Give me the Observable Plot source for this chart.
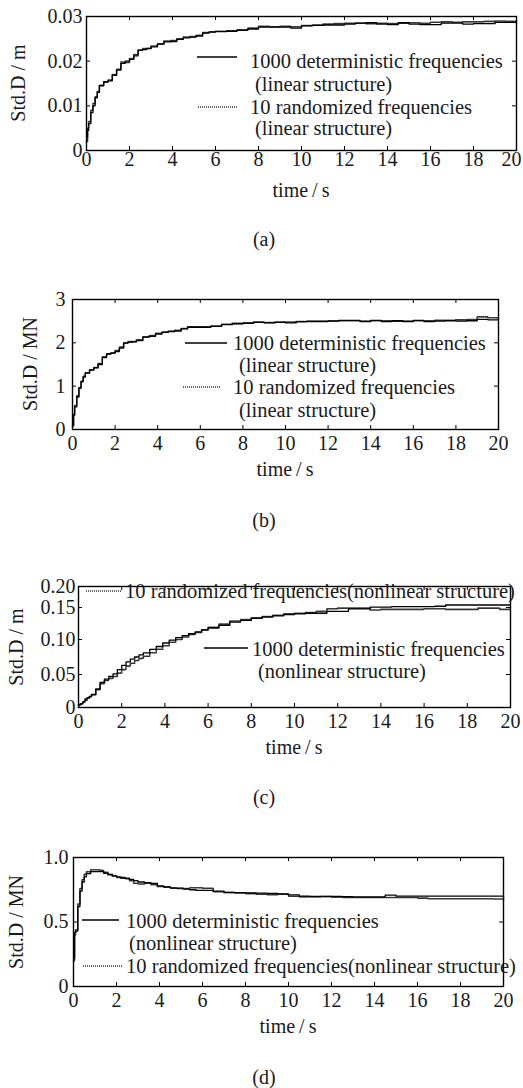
<!DOCTYPE html>
<html><head><meta charset="utf-8">
<script src="https://cdn.jsdelivr.net/npm/d3@7"></script>
<script src="https://cdn.jsdelivr.net/npm/@observablehq/plot@0.6"></script>
<style>
html,body{margin:0;padding:0;background:#fff;}
#root{position:relative;width:523px;height:1088px;overflow:hidden;font-family:"Liberation Serif","Times New Roman","DejaVu Serif",serif;color:#1a1a1a;}
.abs{position:absolute;white-space:nowrap;line-height:1;}
svg{position:absolute;left:0;}
</style></head><body><div id="root"></div>
<script>
// ---------- data ----------
const time = [0,0.05,0.1,0.2,0.3,0.4,0.5,0.6,0.8,1.0,
  1.2,1.4,1.6,1.8,2.0,2.2,2.4,2.6,2.8,3.0,
  3.3,3.6,3.9,4.2,4.5,4.8,5.1,5.4,5.7,6.0,
  6.5,7.0,7.5,8.0,8.5,9.0,9.5,10.0,10.5,11.0,11.5,12.0,12.5,13.0,13.5,14.0,14.5,15.0,15.5,16.0,16.5,17.0,17.5,18.0,18.5,19.0,19.5,20.0];
const xTicks = [0,2,4,6,8,10,12,14,16,18,20];

// (a) displacement, linear structure (m)
const detA = [0.003,0.0045,0.006,0.0085,0.010,0.0118,0.013,0.0145,0.0154,0.0156,
  0.0168,0.0180,0.0195,0.0200,0.0204,0.0212,0.0224,0.0226,0.0228,0.0232,
  0.0238,0.0243,0.0244,0.0249,0.0252,0.0254,0.0256,0.0263,0.0265,0.0266,
  0.0267,0.0269,0.0272,0.0276,0.0276,0.0276,0.0274,0.0279,0.0280,0.0281,
  0.0281,0.0283,0.0285,0.0286,0.0283,0.0282,0.0286,0.0283,0.0282,0.0282,
  0.0285,0.0285,0.0283,0.0284,0.0284,0.0287,0.0287,0.0283];
const rndA = [0.002,0.005,0.0065,0.009,0.0105,0.012,0.0132,0.0146,0.0153,0.0158,
  0.0170,0.0182,0.0198,0.0197,0.0206,0.0215,0.0225,0.0228,0.0229,0.0234,
  0.0239,0.0245,0.0246,0.0250,0.0254,0.0255,0.0258,0.0264,0.0266,0.0267,
  0.0268,0.0270,0.0274,0.0278,0.0277,0.0278,0.0277,0.0280,0.0281,0.0283,
  0.0284,0.0285,0.0285,0.0284,0.0285,0.0284,0.0285,0.0286,0.0285,0.0287,
  0.0288,0.0287,0.0288,0.0288,0.0289,0.0290,0.0289,0.0291];
const yTicksA = [0,0.01,0.02,0.03];
const yLabelsA = ["0","0.01","0.02","0.03"];

// (b) force, linear structure (MN)
const detB = [0.10,0.35,0.52,0.75,0.95,1.10,1.21,1.30,1.37,1.42,
  1.50,1.66,1.75,1.77,1.80,1.88,2.00,2.01,2.02,2.05,
  2.13,2.15,2.20,2.24,2.26,2.27,2.32,2.36,2.36,2.36,
  2.38,2.42,2.44,2.45,2.47,2.46,2.47,2.46,2.49,2.49,
  2.49,2.50,2.52,2.52,2.49,2.52,2.49,2.51,2.49,2.52,
  2.49,2.50,2.51,2.50,2.51,2.54,2.53,2.53];
const rndB = [0.08,0.33,0.55,0.78,0.97,1.12,1.23,1.31,1.38,1.43,
  1.52,1.68,1.74,1.76,1.82,1.90,1.99,2.03,2.03,2.07,
  2.14,2.17,2.22,2.25,2.27,2.29,2.33,2.37,2.37,2.37,
  2.39,2.43,2.45,2.46,2.48,2.47,2.48,2.48,2.49,2.50,
  2.50,2.51,2.51,2.51,2.50,2.51,2.51,2.50,2.50,2.51,
  2.51,2.52,2.52,2.53,2.54,2.60,2.58,2.56];
const yTicksB = [0,1,2,3];
const yLabelsB = ["0","1","2","3"];

// (c) displacement, nonlinear structure (m)
const detC = [0.004,0.005,0.006,0.009,0.013,0.015,0.017,0.020,0.028,0.038,
  0.043,0.047,0.051,0.057,0.063,0.068,0.072,0.075,0.078,0.081,
  0.086,0.090,0.095,0.099,0.103,0.106,0.109,0.112,0.115,0.118,
  0.122,0.127,0.130,0.133,0.135,0.137,0.139,0.140,0.141,0.141,
  0.144,0.144,0.148,0.148,0.151,0.151,0.152,0.152,0.152,0.152,
  0.153,0.156,0.156,0.156,0.156,0.156,0.156,0.156];
const rndC = [0.003,0.004,0.005,0.008,0.011,0.014,0.016,0.019,0.027,0.036,
  0.041,0.044,0.047,0.052,0.057,0.062,0.066,0.070,0.073,0.076,
  0.081,0.086,0.091,0.096,0.100,0.104,0.108,0.111,0.115,0.119,
  0.124,0.129,0.131,0.134,0.136,0.138,0.140,0.141,0.142,0.144,
  0.148,0.149,0.149,0.149,0.146,0.147,0.147,0.147,0.147,0.148,
  0.148,0.147,0.147,0.147,0.149,0.149,0.147,0.147];
const yTicksC = [0,0.05,0.10,0.15,0.20];
const yLabelsC = ["0","0.05","0.10","0.15","0.20"];

// (d) force, nonlinear structure (MN)
const detD = [0.22,0.42,0.43,0.62,0.74,0.81,0.85,0.875,0.89,0.89,
  0.89,0.878,0.865,0.855,0.85,0.845,0.84,0.83,0.82,0.81,
  0.805,0.80,0.78,0.772,0.765,0.762,0.755,0.75,0.745,0.745,
  0.74,0.73,0.727,0.725,0.724,0.722,0.718,0.71,0.70,0.698,
  0.698,0.698,0.697,0.695,0.695,0.695,0.708,0.70,0.70,0.70,
  0.70,0.70,0.70,0.70,0.70,0.70,0.70,0.685];
const rndD = [0.20,0.40,0.44,0.64,0.76,0.83,0.87,0.89,0.905,0.905,
  0.90,0.885,0.87,0.86,0.845,0.84,0.835,0.82,0.80,0.795,
  0.80,0.79,0.775,0.77,0.762,0.76,0.76,0.765,0.765,0.762,
  0.735,0.728,0.725,0.72,0.715,0.712,0.715,0.70,0.695,0.695,
  0.697,0.693,0.69,0.69,0.69,0.69,0.69,0.69,0.69,0.685,
  0.68,0.68,0.68,0.68,0.68,0.68,0.678,0.665];
const yTicksD = [0,0.5,1.0];
const yLabelsD = ["0","0.5","1.0"];

const detName = "1000 deterministic frequencies";
const rndName = "10 randomized frequencies";
const linName = "(linear structure)";
const nonName = "(nonlinear structure)";

// ---------- layout / style ----------
const root = document.getElementById("root");
const W = 523, MT = 12, MB = 60;
const FONT = '"Liberation Serif","Times New Roman","DejaVu Serif",serif';
const SOLID = {stroke: "#000", strokeWidth: 1.3};
const DOTTED = {stroke: "#333", strokeWidth: 1.6, strokeDasharray: "1,1"};

function txt(s, x, y, {anchor = "start", size = 20.5, rotate = false} = {}) {
  const d = document.createElement("div");
  d.className = "abs";
  d.textContent = s;
  d.style.left = x + "px";
  d.style.top = y + "px";
  d.style.fontSize = size + "px";
  let tr = anchor === "middle" ? "translate(-50%,-50%)" : "translate(0,-50%)";
  if (rotate) tr = "translate(-50%,-50%) rotate(-90deg)";
  d.style.transform = tr;
  root.appendChild(d);
}
function sample(x1, x2, y, style) {
  const ns = "http://www.w3.org/2000/svg";
  const s = document.createElementNS(ns, "svg");
  s.setAttribute("width", x2 - x1 + 2);
  s.setAttribute("height", 6);
  s.style.left = (x1 - 1) + "px";
  s.style.top = (y - 3) + "px";
  const l = document.createElementNS(ns, "line");
  l.setAttribute("x1", 1); l.setAttribute("x2", x2 - x1 + 1);
  l.setAttribute("y1", 3); l.setAttribute("y2", 3);
  l.setAttribute("stroke", style.stroke);
  l.setAttribute("stroke-width", style.strokeWidth);
  if (style.strokeDasharray) l.setAttribute("stroke-dasharray", style.strokeDasharray);
  s.appendChild(l);
  root.appendChild(s);
}

function panel(cfg) {
  const fw = cfg.right - cfg.left, fh = cfg.bottom - cfg.top;
  const rows = time.map((t, i) => ({t, det: cfg.det[i], rnd: cfg.rnd[i]}));
  const labelOf = new Map(cfg.yTicks.map((v, i) => [v, cfg.yLabels[i]]));
  let y;
  if (cfg.yWarp) {
    // the printed axis of panel (c) is not evenly spaced: warp through its ticks
    const warp = d3.scaleLinear().domain(cfg.yTicks).range(cfg.yWarp);
    y = {transform: v => warp(v), domain: [cfg.yWarp[0], cfg.yWarp[cfg.yWarp.length - 1]]};
  } else {
    y = {domain: [cfg.yTicks[0], cfg.yTicks[cfg.yTicks.length - 1]]};
  }
  const lastX = xTicks[xTicks.length - 1];
  const svg = Plot.plot({
    width: W, height: MT + fh + MB,
    marginTop: MT, marginBottom: MB, marginLeft: cfg.left, marginRight: W - cfg.right,
    style: {fontFamily: FONT, fontSize: "20px", color: "#1a1a1a", background: "transparent", overflow: "visible"},
    x: {domain: [0, 20], label: null},
    y: {...y, label: null},
    marks: [
      Plot.line(rows, {x: "t", y: "rnd", curve: "step-after", ...DOTTED}),
      Plot.line(rows, {x: "t", y: "det", curve: "step-after", ...SOLID}),
      Plot.ruleX(xTicks, {x: d => d, insetTop: fh - 4, stroke: "#000"}),
      Plot.ruleX(xTicks, {x: d => d, insetBottom: fh - 4, stroke: "#000"}),
      Plot.ruleY(cfg.yTicks, {y: d => d, insetRight: fw - 4, stroke: "#000"}),
      Plot.ruleY(cfg.yTicks, {y: d => d, insetLeft: fw - 4, stroke: "#000"}),
      Plot.frame({stroke: "#000", strokeWidth: 1.4}),
      Plot.axisX(xTicks.slice(0, -1), {tickSize: 0, tickPadding: cfg.xPad, label: null, tickFormat: d => String(d)}),
      Plot.axisX([lastX], {tickSize: 0, tickPadding: cfg.xPad, label: null, dx: cfg.lastDx || 0, tickFormat: d => String(d)}),
      Plot.axisY(cfg.yTicks, {tickSize: 0, tickPadding: cfg.yPad, label: null, tickFormat: d => labelOf.get(d)})
    ]
  });
  svg.style.top = (cfg.top - MT) + "px";
  root.appendChild(svg);
  const cx = (cfg.left + cfg.right) / 2;
  txt("time\u2009/\u2009s", cx, cfg.bottom + 40, {anchor: "middle", size: 20});
  txt(cfg.yTitle, cfg.yTitleX, (cfg.top + cfg.bottom) / 2, {rotate: true, size: 20});
  txt(cfg.caption, 264, cfg.captionY, {anchor: "middle", size: 20});
  for (const e of cfg.legend) {
    if (e.line) sample(e.line[0], e.line[1], e.line[2], e.line[3]);
    txt(e.text, e.x, e.y);
  }
}

panel({left: 86, right: 516, top: 16, bottom: 150, det: detA, rnd: rndA,
  yTicks: yTicksA, yLabels: yLabelsA, xPad: 1, yPad: 4, lastDx: -5,
  yTitle: "Std.D / m", yTitleX: 18, caption: "(a)", captionY: 239,
  legend: [
    {line: [197, 237, 57, SOLID], text: detName, x: 250, y: 60.5},
    {text: linName, x: 255, y: 83.5},
    {line: [198, 237, 107, DOTTED], text: rndName, x: 250, y: 106.5},
    {text: linName, x: 255, y: 128}
  ]});

panel({left: 72, right: 498, top: 299, bottom: 429, det: detB, rnd: rndB,
  yTicks: yTicksB, yLabels: yLabelsB, xPad: 6, yPad: 7,
  yTitle: "Std.D / MN", yTitleX: 30, caption: "(b)", captionY: 520,
  legend: [
    {line: [185, 227, 343, SOLID], text: detName, x: 233, y: 343},
    {text: linName, x: 239, y: 365},
    {line: [183, 221, 387, DOTTED], text: rndName, x: 233, y: 387},
    {text: linName, x: 239, y: 410}
  ]});

panel({left: 78, right: 510, top: 586, bottom: 707, det: detC, rnd: rndC,
  yTicks: yTicksC, yLabels: yLabelsC, yWarp: [0, 33, 68, 100, 121], xPad: 6, yPad: 3,
  yTitle: "Std.D / m", yTitleX: 16, caption: "(c)", captionY: 797,
  legend: [
    {line: [86, 122, 591, DOTTED], text: rndName + nonName, x: 125, y: 591},
    {line: [204, 248, 648, SOLID], text: detName, x: 252, y: 648.5},
    {text: nonName, x: 258, y: 671}
  ]});

panel({left: 73, right: 503, top: 857, bottom: 986, det: detD, rnd: rndD,
  yTicks: yTicksD, yLabels: yLabelsD, xPad: 6, yPad: 5,
  yTitle: "Std.D / MN", yTitleX: 16, caption: "(d)", captionY: 1077,
  legend: [
    {line: [82, 119, 920, SOLID], text: detName, x: 126, y: 920.5},
    {text: nonName, x: 129, y: 943},
    {line: [83, 123, 966, DOTTED], text: rndName + nonName, x: 126, y: 965.5}
  ]});
</script>
</body></html>
